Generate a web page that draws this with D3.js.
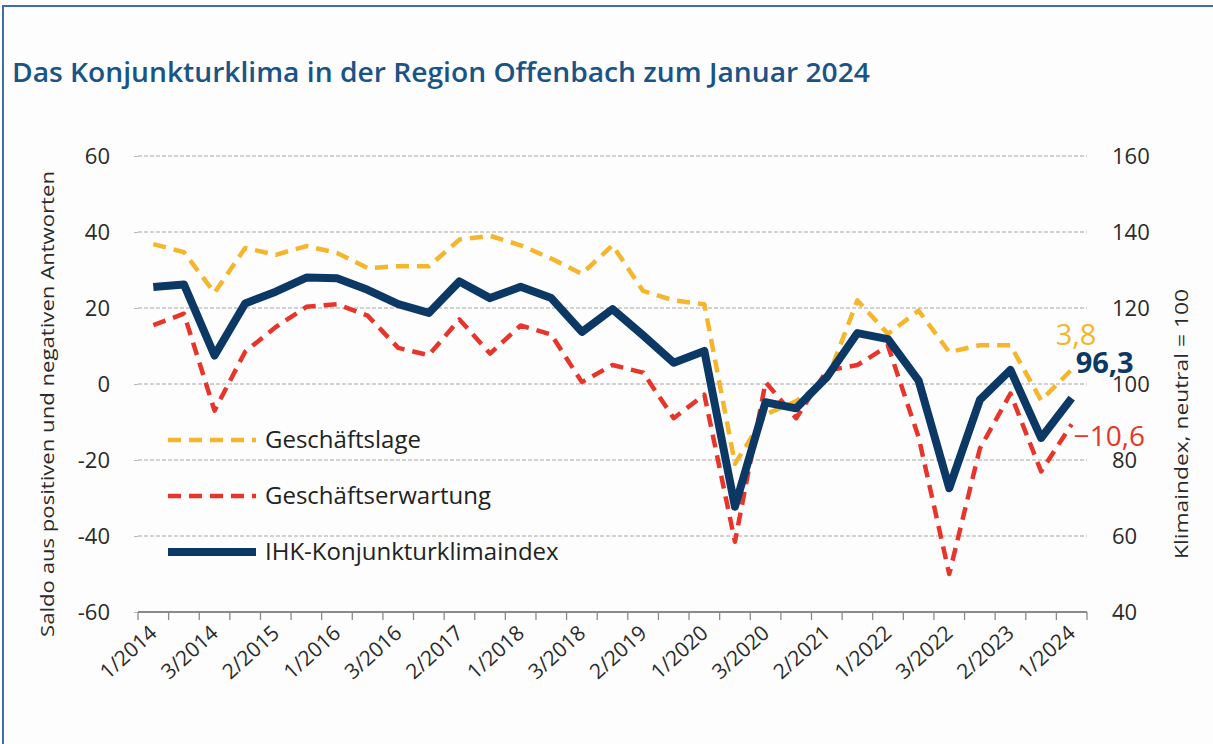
<!DOCTYPE html>
<html><head><meta charset="utf-8">
<script src="https://cdn.jsdelivr.net/npm/d3@7"></script>
<style>
html,body{margin:0;padding:0;background:#fff;}
svg{display:block;font-family:"Open Sans","DejaVu Sans",sans-serif;}
</style></head>
<body><svg id="c" width="1213" height="744"></svg>
<script>
const categories = ["1/2014","2/2014","3/2014","1/2015","2/2015","3/2015","1/2016","2/2016","3/2016",
 "1/2017","2/2017","3/2017","1/2018","2/2018","3/2018","1/2019","2/2019","3/2019","1/2020","2/2020","3/2020",
 "1/2021","2/2021","3/2021","1/2022","2/2022","3/2022","1/2023","2/2023","3/2023","1/2024"];
const tickLabels = ["1/2014","3/2014","2/2015","1/2016","3/2016","2/2017","1/2018","3/2018","2/2019",
 "1/2020","3/2020","2/2021","1/2022","3/2022","2/2023","1/2024"];
const geschaeftslage = [36.8,34.7,24,35.8,34,36.3,34.5,30.5,31,31,38,39,36.5,33,29,36.5,24.5,22,21,-21,-8,-4.5,1,22,13.2,19.3,8.4,10.2,10.2,-4.3,3.8];
const geschaeftserwartung = [15.5,18.5,-7,8.5,15,20.3,21,18,9.5,7.6,17,8,15.4,13,0.5,5,3,-9,-2.8,-41.5,0.5,-9,3.5,5,10,-14,-50,-17,-2.5,-23,-10.6];
const klimaindex = [125.5,126.2,107.5,121.2,124.3,128,127.8,124.8,121,118.7,127,122.6,125.6,122.6,113.7,119.7,112.8,105.6,108.7,67.7,95.2,93.6,101.8,113.4,111.8,100.9,72.6,95.8,103.7,85.8,96.3];
const leftTicks = [-60,-40,-20,0,20,40,60];
const rightTicks = [40,60,80,100,120,140,160];

const C_Y = "#f5b52c", C_R = "#e8352b", C_B = "#0c3865", C_T = "#1a5487";
const svg = d3.select("#c");
svg.append("rect").attr("x",3).attr("y",6).attr("width",1240).attr("height",760)
  .attr("fill","#fdfdfd").attr("stroke","#3f6fa3").attr("stroke-width",2);

svg.append("text").attr("x",12).attr("y",82).attr("fill",C_T)
  .attr("font-size",27).attr("font-weight",600)
  .attr("textLength",858).attr("lengthAdjust","spacingAndGlyphs")
  .text("Das Konjunkturklima in der Region Offenbach zum Januar 2024");

const x = d3.scaleBand().domain(categories).range([138,1087]);
const yL = d3.scaleLinear().domain([-60,60]).range([612,156]);
const yR = d3.scaleLinear().domain([40,160]).range([612,156]);
const cx = c => x(c) + x.bandwidth()/2;
const fmtComma = v => d3.format(".1f")(v).replace(".",",");

// gridlines
svg.append("g").selectAll("line").data(leftTicks.filter(d=>d>-60)).join("line")
  .attr("x1",138).attr("x2",1087).attr("y1",d=>yL(d)).attr("y2",d=>yL(d))
  .attr("stroke","#a9a3a3").attr("stroke-width",1.2).attr("stroke-dasharray","4,2");

// left axis
const gL = svg.append("g").attr("transform","translate(138,0)")
  .call(d3.axisLeft(yL).tickValues(leftTicks).tickSize(4).tickPadding(24).tickFormat(d=>String(d)));
gL.select(".domain").remove();
gL.selectAll("line").attr("stroke","#bbb");
gL.selectAll("text").attr("font-size",22).attr("fill","#2a2a2a").attr("font-family","'Open Sans',sans-serif");

// right axis
const gR = svg.append("g").attr("transform","translate(1087,0)")
  .call(d3.axisRight(yR).tickValues(rightTicks).tickSize(0).tickPadding(25).tickFormat(d=>String(d)));
gR.select(".domain").remove();
gR.selectAll("text").attr("font-size",22).attr("fill","#2a2a2a").attr("font-family","'Open Sans',sans-serif");

// x axis
const gX = svg.append("g").attr("transform","translate(0,612)");
gX.append("line").attr("x1",138).attr("x2",1087).attr("y1",0).attr("y2",0)
  .attr("stroke","#8a8a8a").attr("stroke-width",2);
gX.selectAll("line.tk").data(categories.concat(["__end"])).join("line").attr("class","tk")
  .attr("x1",(d,i)=> i<categories.length ? x(d) : 1087)
  .attr("x2",(d,i)=> i<categories.length ? x(d) : 1087)
  .attr("y1",0).attr("y2",8).attr("stroke","#8a8a8a").attr("stroke-width",1.3);
gX.selectAll("text").data(tickLabels).join("text")
  .attr("transform",d=>`translate(${cx(d)+5},${23}) rotate(-42)`)
  .attr("text-anchor","end").attr("font-size",21).attr("fill","#2a2a2a")
  .attr("font-family","'Open Sans',sans-serif").text(d=>d);

// axis titles
svg.append("text").attr("transform","translate(54,404) rotate(-90)").attr("text-anchor","middle")
  .attr("font-size",19).attr("fill","#2a2a2a")
  .attr("textLength",466).attr("lengthAdjust","spacingAndGlyphs")
  .text("Saldo aus positiven und negativen Antworten");
svg.append("text").attr("transform","translate(1188,424) rotate(-90)").attr("text-anchor","middle")
  .attr("font-size",19).attr("fill","#2a2a2a")
  .attr("textLength",270).attr("lengthAdjust","spacingAndGlyphs")
  .text("Klimaindex, neutral = 100");

// lines
const lineL = d3.line().x((d,i)=>cx(categories[i])).y(d=>yL(d));
const lineR = d3.line().x((d,i)=>cx(categories[i])).y(d=>yR(d));
svg.append("path").datum(geschaeftslage).attr("d",lineL).attr("fill","none")
  .attr("stroke",C_Y).attr("stroke-width",4.5).attr("stroke-dasharray","13,8").attr("stroke-linejoin","round");
svg.append("path").datum(geschaeftserwartung).attr("d",lineL).attr("fill","none")
  .attr("stroke",C_R).attr("stroke-width",4.5).attr("stroke-dasharray","13,8").attr("stroke-linejoin","round");
svg.append("path").datum(klimaindex).attr("d",lineR).attr("fill","none")
  .attr("stroke",C_B).attr("stroke-width",8).attr("stroke-linejoin","round");

// end labels
const last = categories.length-1, lx = cx(categories[last]);
svg.append("text").attr("x",lx-16).attr("y",yL(geschaeftslage[last])-25).attr("fill",C_Y)
  .attr("font-size",29).text(fmtComma(geschaeftslage[last]));
svg.append("text").attr("x",lx+4).attr("y",yR(klimaindex[last])-25).attr("fill",C_B)
  .attr("font-size",29).attr("font-weight",700).text(fmtComma(klimaindex[last]));
svg.append("text").attr("x",lx+2).attr("y",yL(geschaeftserwartung[last])+22).attr("fill",C_R)
  .attr("font-size",28).text("\u2212"+fmtComma(-geschaeftserwartung[last]));

// legend
const legend = [{n:"Geschäftslage",c:C_Y,w:4.5,d:"13,8"},{n:"Geschäftserwartung",c:C_R,w:4.5,d:"13,8"},{n:"IHK-Konjunkturklimaindex",c:C_B,w:8,d:null}];
const lg = svg.append("g").selectAll("g").data(legend).join("g")
  .attr("transform",(d,i)=>`translate(168,${440+i*56})`);
lg.append("line").attr("x1",0).attr("x2",88).attr("y1",0).attr("y2",0)
  .attr("stroke",d=>d.c).attr("stroke-width",d=>d.w).attr("stroke-dasharray",d=>d.d);
lg.append("text").attr("x",97).attr("y",8).attr("font-size",24).attr("fill","#222").text(d=>d.n);
</script></body></html>
